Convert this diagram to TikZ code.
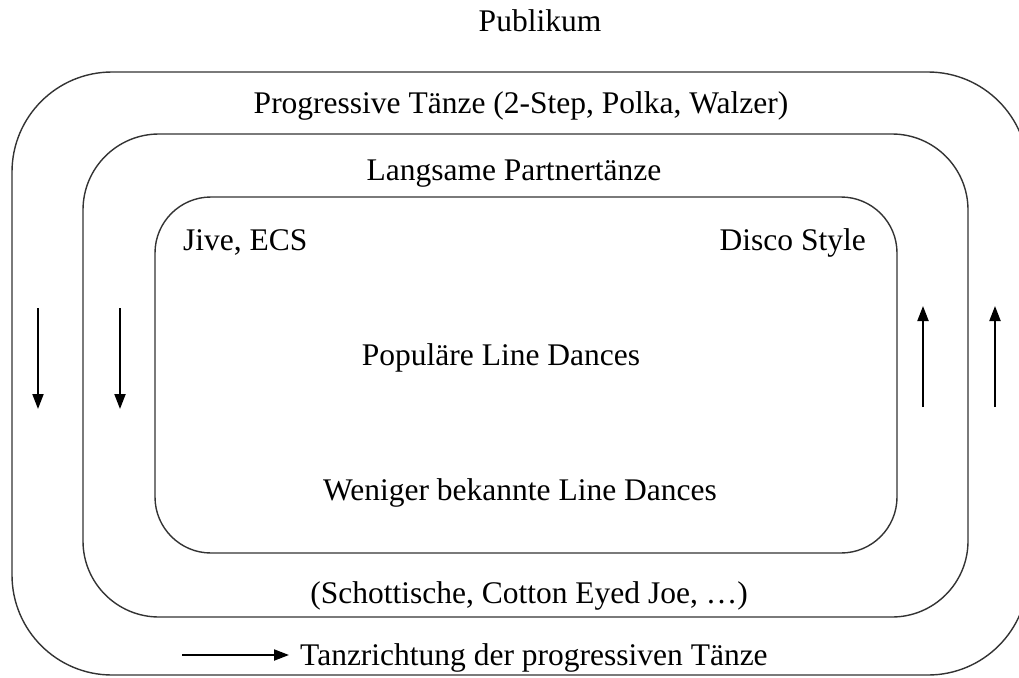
\documentclass[tikz,border=0pt]{standalone}
\usepackage{fontspec}
\setmainfont{Liberation Serif}
\usetikzlibrary{arrows.meta}
\begin{document}
\begin{tikzpicture}[x=1pt,y=-1pt,
  ring/.style={draw=black!80,line width=1.4pt},
  lbl/.style={font=\fontsize{31.5}{36}\selectfont,anchor=base,inner sep=0pt},
  dirarrow/.style={line width=2pt,-{Triangle[length=15pt,width=11pt]}}]
\useasboundingbox (0,0) rectangle (1019,677);
\clip (0,0) rectangle (1019,677);
\fill[white] (0,0) rectangle (1019,677);
% rings
\draw[ring,rounded corners=100pt] (12,72) rectangle (1028,675);
\draw[ring,rounded corners=76pt] (83,134) rectangle (968,617);
\draw[ring,rounded corners=56pt] (155,197) rectangle (897,553);
% labels
\node[lbl] (pub) at (540,32) {Publikum};
\node[lbl] (prog) at (521,113) {Progressive Tänze (2-Step, Polka, Walzer)};
\node[lbl] (lang) at (514,180) {Langsame Partnertänze};
\node[lbl,anchor=base west] (jive) at (183,250) {Jive, ECS};
\node[lbl,anchor=base east] (disco) at (866,250) {Disco Style};
\node[lbl] (pop) at (501,365) {Populäre Line Dances};
\node[lbl] (wen) at (520,500) {Weniger bekannte Line Dances};
\node[lbl] (scho) at (529,603) {(Schottische, Cotton Eyed Joe, …)};
\node[lbl,anchor=base west] (tanz) at (300,665) {Tanzrichtung der progressiven Tänze};
% direction arrows
\coordinate (l1a) at (38,308); \coordinate (l1b) at (38,409);
\coordinate (l2a) at (120,308); \coordinate (l2b) at (120,409);
\coordinate (r1a) at (923,407); \coordinate (r1b) at (923,306);
\coordinate (r2a) at (995,407); \coordinate (r2b) at (995,306);
\coordinate (ba) at (182,655); \coordinate (bb) at (289,655);
\draw[dirarrow] (l1a) -- (l1b);
\draw[dirarrow] (l2a) -- (l2b);
\draw[dirarrow] (r1a) -- (r1b);
\draw[dirarrow] (r2a) -- (r2b);
\draw[dirarrow] (ba) -- (bb);
\end{tikzpicture}
\end{document}
